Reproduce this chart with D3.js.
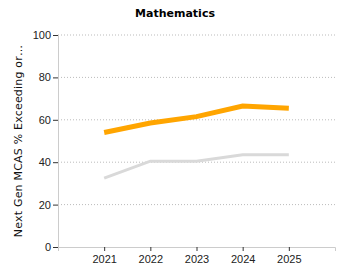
<!DOCTYPE html>
<html>
<head>
<meta charset="utf-8">
<script src="https://cdn.jsdelivr.net/npm/d3@7"></script>
<style>
  body { margin: 0; background: #fff; }
  svg { font-family: Verdana, "DejaVu Sans", sans-serif; }
</style>
</head>
<body>
<svg id="chart" width="350" height="280"></svg>
<script>
const years = ['2021', '2022', '2023', '2024', '2025'];
const districtValues = [54, 58.5, 61.5, 66.5, 65.5];
const stateValues = [32.5, 40.5, 40.5, 43.5, 43.5];
const yTicks = [0, 20, 40, 60, 80, 100];

const margin = { top: 35, right: 15, bottom: 33, left: 58 };
const totalWidth = 350;
const totalHeight = 280;
const width = totalWidth - margin.left - margin.right;
const height = totalHeight - margin.top - margin.bottom;

const svg = d3.select('#chart');

const xScale = d3.scalePoint(years, [0, width]).padding(1);
const yScale = d3.scaleLinear([0, 100], [height, 0]);

const g = svg.append('g').attr('transform', `translate(${margin.left}, ${margin.top})`);

/* grid lines */
g.selectAll('.grid-line-y')
  .data(yTicks.filter((d) => d > 0))
  .enter()
  .append('line')
  .attr('stroke', '#bbb')
  .attr('stroke-dasharray', '1,2')
  .attr('x1', 0)
  .attr('x2', width)
  .attr('y1', (d) => yScale(d))
  .attr('y2', (d) => yScale(d));

/* left axis */
const leftAxis = d3.axisLeft(yScale).tickValues(yTicks).tickSize(5).tickPadding(2);
const yAxisG = g.append('g').call(leftAxis);
yAxisG.select('.domain').attr('stroke', '#ccc');
yAxisG.selectAll('.tick line').attr('stroke', '#333');
yAxisG.selectAll('.tick text').attr('font-size', 11).attr('fill', '#222');

/* bottom axis */
const bottomAxis = d3.axisBottom(xScale).tickSizeInner(4).tickSizeOuter(4).tickPadding(4);
const xAxisG = g.append('g').attr('transform', `translate(0, ${height})`).call(bottomAxis);
xAxisG.select('.domain').attr('stroke', '#ccc');
xAxisG.selectAll('.tick line').attr('stroke', '#333');
xAxisG.selectAll('.tick text').attr('font-size', 11).attr('fill', '#222');

/* lines */
const line = d3.line()
  .x((d, i) => xScale(years[i]))
  .y((d) => yScale(d));

g.append('path')
  .attr('fill', 'none')
  .attr('stroke', '#d9d9d9')
  .attr('stroke-width', 3)
  .attr('d', line(stateValues));

g.append('path')
  .attr('fill', 'none')
  .attr('stroke', '#ffa500')
  .attr('stroke-width', 5)
  .attr('d', line(districtValues));

/* title */
svg.append('text')
  .attr('x', totalWidth / 2)
  .attr('y', 17)
  .attr('text-anchor', 'middle')
  .attr('font-size', 11)
  .attr('font-weight', 'bold')
  .attr('fill', '#000')
  .text('Mathematics');

/* y label */
svg.append('text')
  .attr('transform', `translate(22, ${margin.top + height / 2}) rotate(-90)`)
  .attr('text-anchor', 'middle')
  .attr('font-size', 11)
  .attr('letter-spacing', 0.2)
  .attr('fill', '#111')
  .text('Next Gen MCAS % Exceeding or\u2026');
</script>
</body>
</html>
